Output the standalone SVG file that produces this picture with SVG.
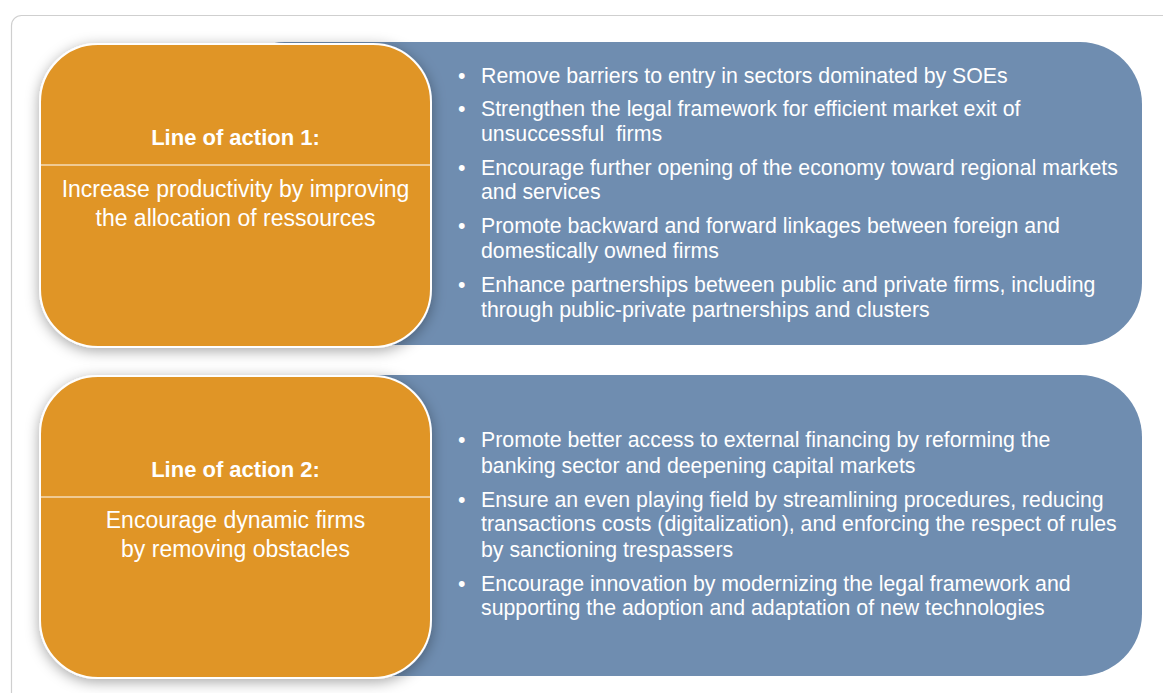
<svg xmlns="http://www.w3.org/2000/svg" width="1163" height="693" viewBox="0 0 1163 693">
  <defs>
    <filter id="shadow" x="-20%" y="-20%" width="140%" height="140%">
      <feDropShadow dx="0" dy="3" stdDeviation="7" flood-color="#000" flood-opacity="0.35"/>
    </filter>
  </defs>
  <style>
    .panel { fill: #ffffff; stroke: #cfcfcf; stroke-width: 1.2; }
    .blue { fill: #6F8DB0; }
    .orange { fill: #E09526; stroke: #ffffff; stroke-width: 2; filter: url(#shadow); }
    .divider { stroke: #ffffff; stroke-width: 1; }
    .title { font-family: "Liberation Sans", Arial, sans-serif; font-weight: bold; font-size: 22px; fill: #ffffff; text-anchor: middle; }
    .body { font-family: "Liberation Sans", Arial, sans-serif; font-size: 23px; fill: #ffffff; text-anchor: middle; }
    .item { font-family: "Liberation Sans", Arial, sans-serif; font-size: 21.3px; fill: #ffffff; white-space: pre; }
  </style>
  <rect width="1163" height="693" fill="#ffffff"/>
  <rect class="panel" x="11.5" y="15.5" width="1200" height="720" rx="10"/>

  <g id="row1-details">
    <rect class="blue" x="223" y="42" width="919" height="303" rx="62"/>
    <text class="item" x="458" y="83">•</text>
    <text class="item" x="481" y="83">Remove barriers to entry in sectors dominated by SOEs</text>
    <text class="item" x="458" y="116">•</text>
    <text class="item" x="481" y="116">Strengthen the legal framework for efficient market exit of</text>
    <text class="item" x="481" y="141" xml:space="preserve">unsuccessful  firms</text>
    <text class="item" x="458" y="175">•</text>
    <text class="item" x="481" y="175">Encourage further opening of the economy toward regional markets</text>
    <text class="item" x="481" y="199">and services</text>
    <text class="item" x="458" y="233">•</text>
    <text class="item" x="481" y="233">Promote backward and forward linkages between foreign and</text>
    <text class="item" x="481" y="258">domestically owned firms</text>
    <text class="item" x="458" y="292">•</text>
    <text class="item" x="481" y="292">Enhance partnerships between public and private firms, including</text>
    <text class="item" x="481" y="317">through public-private partnerships and clusters</text>
  </g>

  <g id="row1-line">
    <rect class="orange" x="40" y="44" width="391" height="303" rx="58"/>
    <line class="divider" x1="41" y1="165" x2="430" y2="165"/>
    <text class="title" x="235.5" y="145">Line of action 1:</text>
    <text class="body" x="235.5" y="197">Increase productivity by improving</text>
    <text class="body" x="235.5" y="226">the allocation of ressources</text>
  </g>

  <g id="row2-details">
    <rect class="blue" x="223" y="375" width="919" height="301" rx="62"/>
    <text class="item" x="458" y="447">•</text>
    <text class="item" x="481" y="447">Promote better access to external financing by reforming the</text>
    <text class="item" x="481" y="473">banking sector and deepening capital markets</text>
    <text class="item" x="458" y="507">•</text>
    <text class="item" x="481" y="507">Ensure an even playing field by streamlining procedures, reducing</text>
    <text class="item" x="481" y="531">transactions costs (digitalization), and enforcing the respect of rules</text>
    <text class="item" x="481" y="557">by sanctioning trespassers</text>
    <text class="item" x="458" y="591">•</text>
    <text class="item" x="481" y="591">Encourage innovation by modernizing the legal framework and</text>
    <text class="item" x="481" y="615">supporting the adoption and adaptation of new technologies</text>
  </g>

  <g id="row2-line">
    <rect class="orange" x="40" y="376" width="391" height="302" rx="58"/>
    <line class="divider" x1="41" y1="497" x2="430" y2="497"/>
    <text class="title" x="235.5" y="477">Line of action 2:</text>
    <text class="body" x="235.5" y="528">Encourage dynamic firms</text>
    <text class="body" x="235.5" y="557">by removing obstacles</text>
  </g>

  <g id="connectors"></g>
</svg>
